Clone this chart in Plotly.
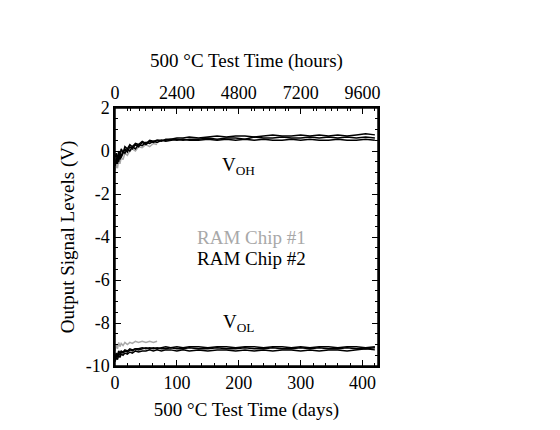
import plotly.graph_objects as go

days = [0,2,4,6,8,10,13,16,20,24,28,33,38,44,50,56,62,68,75,82,90,100,110,120,135,150,165,180,195,210,225,240,255,270,285,300,315,330,345,360,375,390,405,420]
gray_days = days[:18]

voh_b1 = [-0.7,-0.3,-0.6,-0.1,-0.4,-0.2,0.0,-0.1,0.1,0.0,0.2,0.1,0.3,0.25,0.4,0.35,0.45,0.4,0.5,0.45,0.5,0.55,0.5,0.55,0.55,0.6,0.55,0.6,0.6,0.55,0.65,0.6,0.6,0.65,0.6,0.6,0.65,0.6,0.65,0.6,0.65,0.6,0.65,0.6]
voh_b2 = [-0.5,-0.6,-0.2,-0.5,-0.1,-0.3,-0.1,0.1,-0.05,0.2,0.1,0.3,0.2,0.4,0.3,0.45,0.4,0.5,0.45,0.55,0.55,0.6,0.6,0.65,0.6,0.65,0.7,0.65,0.7,0.7,0.65,0.7,0.75,0.7,0.7,0.75,0.7,0.75,0.7,0.75,0.7,0.75,0.8,0.75]
voh_b3 = [-0.3,-0.1,-0.4,0.0,-0.2,0.1,-0.1,0.2,0.1,0.3,0.2,0.35,0.3,0.45,0.35,0.5,0.45,0.5,0.5,0.5,0.55,0.5,0.55,0.5,0.5,0.55,0.5,0.55,0.5,0.55,0.5,0.55,0.5,0.5,0.55,0.5,0.55,0.5,0.5,0.55,0.5,0.5,0.55,0.5]
voh_g = [-0.9,-0.6,-0.8,-0.4,-0.6,-0.3,-0.4,-0.1,-0.2,0.0,0.1,0.0,0.2,0.15,0.3,0.2,0.35,0.3]

vol_b1 = [-9.7,-9.5,-9.6,-9.4,-9.5,-9.35,-9.4,-9.3,-9.35,-9.25,-9.3,-9.2,-9.25,-9.2,-9.15,-9.2,-9.15,-9.2,-9.15,-9.1,-9.15,-9.1,-9.15,-9.1,-9.1,-9.15,-9.1,-9.1,-9.15,-9.1,-9.1,-9.15,-9.1,-9.1,-9.15,-9.1,-9.15,-9.1,-9.1,-9.15,-9.1,-9.1,-9.15,-9.1]
vol_b2 = [-9.8,-9.6,-9.7,-9.5,-9.6,-9.45,-9.5,-9.4,-9.45,-9.35,-9.4,-9.3,-9.35,-9.3,-9.3,-9.25,-9.3,-9.25,-9.3,-9.25,-9.25,-9.3,-9.25,-9.3,-9.25,-9.3,-9.25,-9.25,-9.3,-9.25,-9.3,-9.25,-9.3,-9.25,-9.25,-9.3,-9.25,-9.3,-9.25,-9.25,-9.3,-9.25,-9.2,-9.25]
vol_b3 = [-9.6,-9.4,-9.5,-9.3,-9.4,-9.3,-9.35,-9.25,-9.3,-9.2,-9.25,-9.2,-9.2,-9.15,-9.2,-9.15,-9.2,-9.15,-9.2,-9.2,-9.15,-9.2,-9.2,-9.15,-9.2,-9.2,-9.15,-9.2,-9.2,-9.15,-9.2,-9.2,-9.15,-9.2,-9.2,-9.15,-9.2,-9.15,-9.2,-9.2,-9.15,-9.2,-9.2,-9.15]
vol_g = [-9.3,-9.0,-9.2,-8.9,-9.1,-8.95,-9.05,-8.9,-9.0,-8.9,-8.95,-8.85,-8.9,-8.85,-8.9,-8.85,-8.9,-8.85]

hour_ticks = [0,2400,4800,7200,9600]
day_ticks = [0,100,200,300,400]
y_ticks = [2,0,-2,-4,-6,-8,-10]
y_labels = ["2","0","-2","-4","-6","-8","-10"]

font = "Liberation Serif"
fig = go.Figure()
def add(x, y, c):
    fig.add_trace(go.Scatter(x=x, y=y, mode="lines", line=dict(color=c, width=1.5), showlegend=False))
for y in (voh_g, vol_g):
    add(gray_days, y, "#a8a8a8")
for y in (voh_b1, voh_b2, voh_b3, vol_b1, vol_b2, vol_b3):
    add(days, y, "black")
fig.add_trace(go.Scatter(x=[0, 425*24], y=[None, None], xaxis="x2", showlegend=False, hoverinfo="skip"))

ax = dict(showline=True, linecolor="black", linewidth=1.5, ticks="inside", automargin=False,
          ticklen=6, tickcolor="black", showgrid=False, zeroline=False,
          tickfont=dict(family=font, size=18, color="black"))
mn = dict(ticks="inside", ticklen=3, tickcolor="black")
fig.update_layout(
    width=560, height=430, plot_bgcolor="white", paper_bgcolor="white",
    margin=dict(l=107, r=190, t=100, b=72),
    font=dict(family=font, color="black"),
    xaxis=dict(ax, range=[0,425], tickvals=day_ticks, minor=dict(mn, dtick=20), mirror="ticks",
               title=dict(text="500 °C Test Time (days)", font=dict(size=19), standoff=10)),
    xaxis2=dict(ax, range=[0,425*24], tickvals=hour_ticks, overlaying="x", side="top",
                minor=dict(mn, dtick=600),
                title=dict(text="500 °C Test Time (hours)", font=dict(size=19), standoff=10)),
    yaxis=dict(ax, range=[-10,2], tickvals=y_ticks, ticktext=y_labels, mirror="ticks",
               minor=dict(mn, dtick=0.5),
               title=dict(text="Output Signal Levels (V)", font=dict(size=19), standoff=6)),
)
fig.add_shape(type="rect", xref="paper", yref="paper", x0=0, x1=1, y0=0, y1=1, line=dict(color="black", width=1.5))
ann = [("V<sub>OH</sub>", 200, -0.7, "black"), ("V<sub>OL</sub>", 200, -8.0, "black"),
       ("RAM Chip #1", 220, -4.0, "#a8a8a8"), ("RAM Chip #2", 220, -5.0, "black")]
for t, x, y, c in ann:
    fig.add_annotation(text=t, x=x, y=y, showarrow=False, font=dict(family=font, size=19, color=c))
fig.write_html("out.html")
